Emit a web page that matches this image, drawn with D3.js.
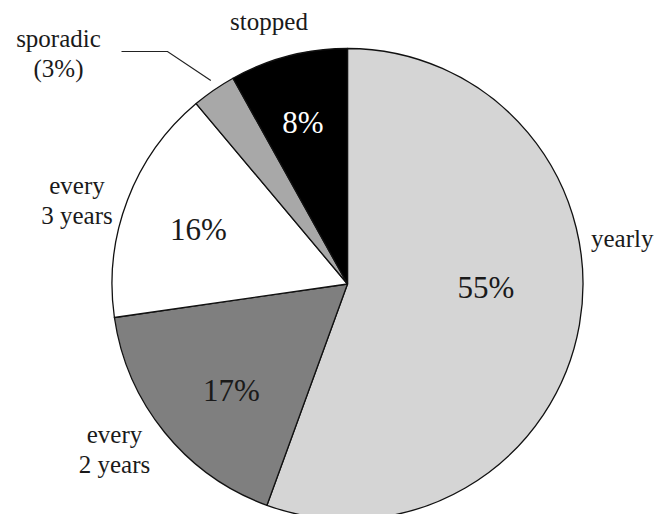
<!DOCTYPE html>
<html><head><meta charset="utf-8"><script src="https://cdn.jsdelivr.net/npm/d3@7"></script></head>
<body style="margin:0; background:#fff">
<svg id="chart" width="665" height="514"></svg>
<script>
// Share of respondents by frequency, clockwise from 12 o'clock
const categories = ["yearly", "every 2 years", "every 3 years", "sporadic", "stopped"];
const shares     = [55, 17, 16, 3, 8];
const valueLabels = ["55%", "17%", "16%", "", "8%"];
const nameLines = [["yearly"], ["every", "2 years"], ["every", "3 years"], ["sporadic", "(3%)"], ["stopped"]];

const fills      = ["#d5d5d5", "#7f7f7f", "#ffffff", "#a8a8a8", "#000000"];
const valueInk   = ["#1a1a1a", "#1a1a1a", "#1a1a1a", "#1a1a1a", "#ffffff"];

const cx = 347.5, cy = 284, radius = 235.5;

// hand-placed label spots, relative to the pie centre
const valueSpots = [[138.5, 3], [-116, 106], [-149, -55], null, [-44.5, -162]];
const nameSpots  = [
  { x: 243.5, y: -37, anchor: "start" },
  { x: -233, y: 159, anchor: "middle" },
  { x: -270.5, y: -90, anchor: "middle" },
  { x: -289, y: -237, anchor: "middle" },
  { x: -78.5, y: -254, anchor: "middle" }
];
const lineGap = 30;

const svg = d3.select("#chart");

const pie = d3.pie().sort(null).value(d => d)(shares);
const arc = d3.arc().innerRadius(0).outerRadius(radius);

svg.append("g")
  .attr("transform", `translate(${cx},${cy})`)
  .selectAll("path")
  .data(pie)
  .join("path")
  .attr("d", arc)
  .attr("fill", (d, i) => fills[i])
  .attr("stroke", "#111")
  .attr("stroke-width", 1.3)
  .attr("stroke-linejoin", "round");

// leader line from the "sporadic" label to its thin slice
const sporadic = pie[3];
const midA = (sporadic.startAngle + sporadic.endAngle) / 2;
const tip = [cx + Math.sin(midA) * (radius + 2) - 2, cy - Math.cos(midA) * (radius + 2) - 8];
svg.append("path")
  .attr("d", d3.line()([[cx - 226, cy - 232.5], [cx - 180, cy - 232.5], tip]))
  .attr("fill", "none")
  .attr("stroke", "#222")
  .attr("stroke-width", 1.2);

// percentage labels inside the slices
const valueRows = pie.filter((d, i) => valueSpots[i]).map(d => ({
  t: valueLabels[d.index], x: cx + valueSpots[d.index][0], y: cy + valueSpots[d.index][1] + 11, ink: valueInk[d.index]
}));
svg.selectAll("text.v")
  .data(valueRows)
  .join("text")
  .attr("x", d => d.x)
  .attr("y", d => d.y)
  .style("font-family", "Times New Roman")
  .attr("font-size", 31)
  .attr("text-anchor", "middle")
  .attr("fill", d => d.ink)
  .text(d => d.t);

// category names outside the pie, one text per line
const nameRows = pie.flatMap(d => nameLines[d.index].map((t, k) => ({
  t, x: cx + nameSpots[d.index].x, y: cy + nameSpots[d.index].y + k * lineGap, anchor: nameSpots[d.index].anchor
})));
svg.selectAll("text.n")
  .data(nameRows)
  .join("text")
  .attr("x", d => d.x)
  .attr("y", d => d.y)
  .style("font-family", "Times New Roman")
  .attr("font-size", 25)
  .attr("text-anchor", d => d.anchor)
  .attr("fill", "#1a1a1a")
  .text(d => d.t);
</script>
</body></html>
